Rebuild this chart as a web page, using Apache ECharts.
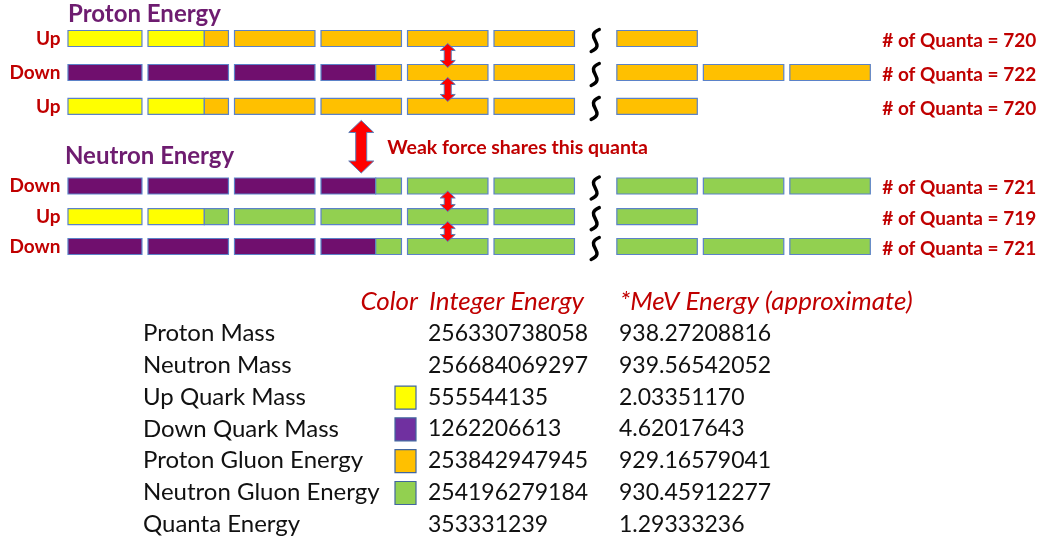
<!DOCTYPE html>
<html>
<head>
<meta charset="utf-8">
<title>Proton / Neutron Energy</title>
<script src="https://cdn.jsdelivr.net/npm/echarts@6/dist/echarts.min.js"></script>
<style>
  html, body { margin: 0; padding: 0; background: #fff; }
  #main { width: 1045px; height: 542px; }
</style>
</head>
<body>
<div id="main"></div>
<script>
// rows of the quanta diagram
var rowLabels = ['Up', 'Down', 'Up', 'Down', 'Up', 'Down'];
var rowQuark = ['up', 'down', 'up', 'down', 'up', 'down'];
var rowGluon = ['proton', 'proton', 'proton', 'neutron', 'neutron', 'neutron'];
var rowBoxes = [7, 9, 7, 9, 7, 9];
var quantaCount = [720, 722, 720, 721, 719, 721];
// how many boxes the quark part fills
var quarkFill = { up: 1.7, down: 3.68 };

// shared quanta arrows: [box, fromRow, toRow]
var shareArrows = [[4, 0, 1], [4, 1, 2], [4, 3, 4], [4, 4, 5]];
var weakArrow = [3, 2, 3];
var weakText = 'Weak force shares this quanta';

// table
var tableHeaders = ['Color', 'Integer Energy', '*MeV Energy (approximate)'];
var tableNames = ['Proton Mass', 'Neutron Mass', 'Up Quark Mass', 'Down Quark Mass',
    'Proton Gluon Energy', 'Neutron Gluon Energy', 'Quanta Energy'];
var tableColor = [null, null, 'up', 'down', 'proton', 'neutron', null];
var integerEnergy = [256330738058, 256684069297, 555544135, 1262206613,
    253842947945, 254196279184, 353331239];
var mevEnergy = [938.27208816, 939.56542052, 2.03351170, 4.62017643,
    929.16579041, 930.45912277, 1.29333236];

// layout
var rowPos = [0, 1, 2, 4.34, 5.24, 6.12];
var boxW = 0.93;
var breakX = 6.17;
function slotStart(b) { return b === 0 ? 0.075 : (b < 6 ? b : b + 0.42); }
function slotEnd(b) { return (b < 6 ? b : b + 0.42) + boxW; }

var barColors = { up: '#FFFF00', down: '#700F6E', proton: '#FFC000', neutron: '#92D050' };
var swatchColors = { up: '#FFFF00', down: '#7030A0', proton: '#FFC000', neutron: '#92D050' };
var red = '#C00000';
var font = 'Lato';
var redFont = 'bold 19px ' + font;

var segments = [];
rowLabels.forEach(function (lab, r) {
    var fill = quarkFill[rowQuark[r]];
    for (var b = 0; b < rowBoxes[r]; b++) {
        var s = slotStart(b), e = slotEnd(b);
        var frac = Math.max(0, Math.min(1, fill - b));
        var m = s + (e - s) * frac;
        if (frac > 0) segments.push([rowPos[r], s, m, rowQuark[r]]);
        if (frac < 1) segments.push([rowPos[r], m, e, rowGluon[r]]);
    }
});

function arrowShape(x, y1, y2, hw, hl, sw) {
    return [[x, y1], [x + hw / 2, y1 + hl], [x + sw / 2, y1 + hl], [x + sw / 2, y2 - hl],
        [x + hw / 2, y2 - hl], [x, y2], [x - hw / 2, y2 - hl], [x - sw / 2, y2 - hl],
        [x - sw / 2, y1 + hl], [x - hw / 2, y1 + hl]];
}

var myChart = echarts.init(document.getElementById('main'));
var option = {
    backgroundColor: '#fff',
    animation: false,
    title: [{
        text: 'Proton Energy', left: 68, top: 2, padding: 0,
        textStyle: { color: '#6E1C70', fontSize: 24, fontWeight: 'bold', fontFamily: font }
    }, {
        text: 'Neutron Energy', left: 65, top: 144, padding: 0,
        textStyle: { color: '#6E1C70', fontSize: 24, fontWeight: 'bold', fontFamily: font }
    }],
    grid: [
        { left: 61.5, width: 808.8, top: 21.5, height: 242 },
        { left: 0, right: 0, top: 285.8, height: 254.4 }
    ],
    xAxis: [
        { type: 'value', gridIndex: 0, min: 0, max: 9.35, show: false },
        { type: 'value', gridIndex: 1, min: 0, max: 1045, show: false }
    ],
    yAxis: [
        { type: 'value', gridIndex: 0, min: -0.5, max: 6.62, inverse: true, show: false },
        { type: 'value', gridIndex: 1, min: -1.5, max: 6.5, inverse: true, show: false }
    ],
    series: [{
        // energy boxes
        type: 'custom', xAxisIndex: 0, yAxisIndex: 0, clip: false,
        data: segments.map(function (s) { return [s[0], s[1], s[2]]; }),
        encode: { x: [1, 2], y: 0 },
        renderItem: function (params, api) {
            var seg = segments[params.dataIndex];
            var p0 = api.coord([seg[1], seg[0]]);
            var p1 = api.coord([seg[2], seg[0]]);
            return {
                type: 'rect',
                shape: { x: p0[0], y: p0[1] - 8, width: p1[0] - p0[0], height: 16 },
                style: { fill: barColors[seg[3]], stroke: '#5B82C8', lineWidth: 1.2 }
            };
        }
    }, {
        // row labels, breaks, quanta counts
        type: 'custom', xAxisIndex: 0, yAxisIndex: 0, clip: false,
        data: rowPos.map(function (y, i) { return [breakX, y, i]; }),
        renderItem: function (params, api) {
            var i = params.dataIndex;
            var p = api.coord([api.value(0), api.value(1)]);
            var left = api.coord([0, api.value(1)])[0];
            var right = api.coord([9.35, api.value(1)])[0];
            var cx = p[0], cy = p[1] + 2;
            return {
                type: 'group',
                children: [{
                    type: 'text',
                    style: {
                        text: rowLabels[i], x: left - 1, y: p[1], align: 'right', verticalAlign: 'middle',
                        fill: red, font: redFont
                    }
                }, {
                    type: 'bezierCurve',
                    shape: { x1: cx + 4, y1: cy - 11, cpx1: cx - 12, cpy1: cy - 4, cpx2: cx + 12, cpy2: cy + 4, x2: cx - 4, y2: cy + 11 },
                    style: { stroke: '#000', lineWidth: 3.5, fill: null, lineCap: 'round' }
                }, {
                    type: 'text',
                    style: {
                        text: '# of Quanta = ' + quantaCount[i], x: right + 12, y: p[1] + 2,
                        align: 'left', verticalAlign: 'middle', fill: red, font: redFont
                    }
                }]
            };
        }
    }, {
        // arrows
        type: 'custom', xAxisIndex: 0, yAxisIndex: 0, clip: false,
        data: shareArrows.concat([weakArrow]).map(function (a, i) { return [a[0], a[1], a[2], i === shareArrows.length ? 1 : 0]; }),
        renderItem: function (params, api) {
            var box = api.value(0), big = api.value(3) === 1;
            var x = api.coord([slotStart(box) + boxW / 2, 0])[0];
            var ya = api.coord([0, rowPos[api.value(1)]])[1];
            var yb = api.coord([0, rowPos[api.value(2)]])[1];
            var children = [];
            if (big) {
                children.push({
                    type: 'polygon',
                    shape: { points: arrowShape(x, ya + 14, yb - 13, 25, 12, 11) },
                    style: { fill: '#FF0000', stroke: '#5B7DB8', lineWidth: 1 }
                });
                children.push({
                    type: 'text',
                    style: {
                        text: weakText, x: x + 26, y: (ya + yb) / 2 + 1, align: 'left', verticalAlign: 'middle',
                        fill: red, font: 'bold 19.5px ' + font
                    }
                });
            } else {
                children.push({
                    type: 'polygon',
                    shape: { points: arrowShape(x, ya + 5, yb - 5, 15, 7, 7) },
                    style: { fill: '#FF0000', stroke: '#5B7DB8', lineWidth: 1 }
                });
            }
            return { type: 'group', children: children };
        }
    }, {
        // table header
        type: 'custom', xAxisIndex: 1, yAxisIndex: 1, clip: false,
        data: [[0, -1]],
        renderItem: function (params, api) {
            var y = api.coord([0, -1])[1];
            var xs = [418, 429, 620], al = ['right', 'left', 'left'];
            return {
                type: 'group',
                children: tableHeaders.map(function (h, k) {
                    return {
                        type: 'text',
                        style: {
                            text: h, x: api.coord([xs[k], 0])[0], y: y, align: al[k], verticalAlign: 'middle',
                            fill: red, font: 'italic 26px ' + font
                        }
                    };
                })
            };
        }
    }, {
        // table rows
        type: 'custom', xAxisIndex: 1, yAxisIndex: 1, clip: false,
        data: tableNames.map(function (n, i) { return [0, i]; }),
        renderItem: function (params, api) {
            var i = params.dataIndex;
            var y = api.coord([0, api.value(1)])[1];
            var txt = function (s, x, size) {
                return {
                    type: 'text',
                    style: { text: s, x: api.coord([x, 0])[0], y: y, align: 'left', verticalAlign: 'middle', fill: '#111', font: size + 'px ' + font }
                };
            };
            var children = [
                txt(tableNames[i], 143, 24),
                txt(String(integerEnergy[i]), 428, 23),
                txt(mevEnergy[i].toFixed(8), 619, 23)
            ];
            if (tableColor[i]) {
                children.push({
                    type: 'rect',
                    shape: { x: api.coord([395, 0])[0], y: y - 11, width: 21, height: 23 },
                    style: { fill: swatchColors[tableColor[i]], stroke: '#41669E', lineWidth: 1.2 }
                });
            }
            return { type: 'group', children: children };
        }
    }]
};
myChart.setOption(option);
window.addEventListener('resize', function () {
    myChart.resize();
});
</script>
</body>
</html>
